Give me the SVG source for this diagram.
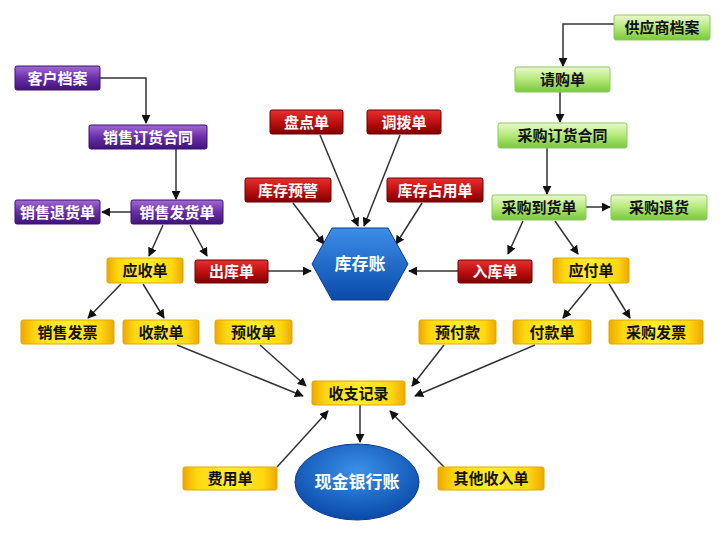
<svg xmlns="http://www.w3.org/2000/svg" width="724" height="535" viewBox="0 0 724 535">
<defs>
<linearGradient id="gP" x1="0" y1="0" x2="0" y2="1"><stop offset="0" stop-color="#a26ad2"/><stop offset="0.5" stop-color="#6a2ea8"/><stop offset="1" stop-color="#3e1478"/></linearGradient>
<linearGradient id="gR" x1="0" y1="0" x2="0" y2="1"><stop offset="0" stop-color="#e83030"/><stop offset="0.5" stop-color="#c01010"/><stop offset="1" stop-color="#800000"/></linearGradient>
<linearGradient id="gG" x1="0" y1="0" x2="0" y2="1"><stop offset="0" stop-color="#eafad0"/><stop offset="0.5" stop-color="#b4e878"/><stop offset="1" stop-color="#78c83c"/></linearGradient>
<linearGradient id="gY" x1="0" y1="0" x2="1" y2="0"><stop offset="0" stop-color="#eea800"/><stop offset="0.15" stop-color="#ffd810"/><stop offset="0.5" stop-color="#ffee30"/><stop offset="0.85" stop-color="#ffd810"/><stop offset="1" stop-color="#eea800"/></linearGradient>
<linearGradient id="gB" x1="0" y1="0" x2="0" y2="1"><stop offset="0" stop-color="#3c8ee8"/><stop offset="1" stop-color="#0a4aa8"/></linearGradient>
<radialGradient id="gE" cx="0.5" cy="0.35" r="0.65"><stop offset="0" stop-color="#3a90ea"/><stop offset="1" stop-color="#0a4aa8"/></radialGradient>
<marker id="ar" viewBox="0 0 10 10" refX="9" refY="5" markerWidth="9" markerHeight="9" markerUnits="userSpaceOnUse" orient="auto"><path d="M0,0 L10,5 L0,10 z" fill="#111"/></marker>
</defs>
<style>
.p{fill:url(#gP);stroke:#3a1070;stroke-width:1}
.r{fill:url(#gR);stroke:#6a0000;stroke-width:1}
.g{fill:url(#gG);stroke:#8cc860;stroke-width:1}
.y{fill:url(#gY);stroke:#e0a800;stroke-width:1}
text{font-family:"Noto Sans CJK SC","Noto Sans",sans-serif;font-weight:bold;font-size:15px;text-anchor:middle}
.w{fill:#fff}
.k{fill:#111}
.big{font-size:17px}
#connectors path{fill:none;stroke:#333;stroke-width:1.5;marker-end:url(#ar)}
</style>
<rect width="724" height="535" fill="#fff"/>
<g id="connectors">
<path d="M100,78 H146 V123"/>
<path d="M176,149 V199"/>
<path d="M131,212 H102"/>
<path d="M163,225 L149,256"/>
<path d="M190,225 L207,256"/>
<path d="M121,284 L88,318"/>
<path d="M143,284 L164,318"/>
<path d="M268,271 H311"/>
<path d="M458,271 H409"/>
<path d="M320,135 L358,226"/>
<path d="M400,135 L364,226"/>
<path d="M293,203 L324,244"/>
<path d="M422,203 L396,244"/>
<path d="M614,24 H563 V66"/>
<path d="M560,92 V122"/>
<path d="M547,148 V194"/>
<path d="M586,207 H610"/>
<path d="M523,221 L508,254"/>
<path d="M555,221 L578,254"/>
<path d="M591,284 L563,318"/>
<path d="M609,284 L630,318"/>
<path d="M177,345 L303,396"/>
<path d="M260,345 L306,386"/>
<path d="M444,345 L412,386"/>
<path d="M535,345 L415,396"/>
<path d="M360,405 V442"/>
<path d="M277,467 L328,411"/>
<path d="M444,467 L390,411"/>
</g>
<g id="n_kehu"><rect class="p" x="15" y="66" width="85" height="24" rx="2"/><text class="w" x="57.5" y="83.5">客户档案</text></g>
<g id="n_xsht"><rect class="p" x="89" y="125" width="118" height="24" rx="2"/><text class="w" x="148" y="142.5">销售订货合同</text></g>
<g id="n_xsth"><rect class="p" x="15" y="200" width="85" height="24" rx="2"/><text class="w" x="57.5" y="217.5">销售退货单</text></g>
<g id="n_xsfh"><rect class="p" x="131" y="200" width="92" height="24" rx="2"/><text class="w" x="177" y="217.5">销售发货单</text></g>
<g id="n_pd"><rect class="r" x="270" y="110" width="73" height="24" rx="2"/><text class="w" x="306.5" y="127.5">盘点单</text></g>
<g id="n_db"><rect class="r" x="367" y="110" width="74" height="24" rx="2"/><text class="w" x="404" y="127.5">调拨单</text></g>
<g id="n_yj"><rect class="r" x="245" y="178" width="86" height="24" rx="2"/><text class="w" x="288" y="195.5">库存预警</text></g>
<g id="n_zy"><rect class="r" x="387" y="178" width="96" height="24" rx="2"/><text class="w" x="435" y="195.5">库存占用单</text></g>
<g id="n_ck"><rect class="r" x="195" y="260" width="73" height="23" rx="2"/><text class="w" x="231.5" y="277">出库单</text></g>
<g id="n_rk"><rect class="r" x="458" y="260" width="74" height="23" rx="2"/><text class="w" x="495" y="277">入库单</text></g>
<g id="n_kcz"><polygon points="332,228 388,228 408,264 388,300 332,300 312,264" fill="url(#gB)" stroke="#0a3c90" stroke-width="1"/><text class="w big" x="360" y="270">库存账</text></g>
<g id="n_gys"><rect class="g" x="614" y="15" width="96" height="25" rx="2"/><text class="k" x="662" y="33">供应商档案</text></g>
<g id="n_qg"><rect class="g" x="515" y="67" width="95" height="25" rx="2"/><text class="k" x="562.5" y="85">请购单</text></g>
<g id="n_cght"><rect class="g" x="498" y="123" width="129" height="25" rx="2"/><text class="k" x="562.5" y="141">采购订货合同</text></g>
<g id="n_cgdh"><rect class="g" x="492" y="195" width="94" height="25" rx="2"/><text class="k" x="539" y="213">采购到货单</text></g>
<g id="n_cgth"><rect class="g" x="611" y="195" width="96" height="25" rx="2"/><text class="k" x="659" y="213">采购退货</text></g>
<g id="n_ys"><rect class="y" x="107" y="258" width="76" height="25" rx="2"/><text class="k" x="145" y="276">应收单</text></g>
<g id="n_xsfp"><rect class="y" x="21" y="320" width="93" height="24" rx="2"/><text class="k" x="67.5" y="337.5">销售发票</text></g>
<g id="n_sk"><rect class="y" x="123" y="320" width="76" height="24" rx="2"/><text class="k" x="161" y="337.5">收款单</text></g>
<g id="n_ysd"><rect class="y" x="215" y="320" width="77" height="24" rx="2"/><text class="k" x="253.5" y="337.5">预收单</text></g>
<g id="n_yf"><rect class="y" x="553" y="258" width="76" height="25" rx="2"/><text class="k" x="591" y="276">应付单</text></g>
<g id="n_yfk"><rect class="y" x="419" y="320" width="77" height="24" rx="2"/><text class="k" x="457.5" y="337.5">预付款</text></g>
<g id="n_fk"><rect class="y" x="513" y="320" width="78" height="24" rx="2"/><text class="k" x="552" y="337.5">付款单</text></g>
<g id="n_cgfp"><rect class="y" x="609" y="320" width="94" height="24" rx="2"/><text class="k" x="656" y="337.5">采购发票</text></g>
<g id="n_szjl"><rect class="y" x="312" y="381" width="93" height="24" rx="2"/><text class="k" x="358.5" y="398.5">收支记录</text></g>
<g id="n_fy"><rect class="y" x="183" y="467" width="94" height="23" rx="2"/><text class="k" x="230" y="484">费用单</text></g>
<g id="n_qt"><rect class="y" x="438" y="467" width="106" height="23" rx="2"/><text class="k" x="491" y="484">其他收入单</text></g>
<g id="n_xj"><ellipse cx="357" cy="482" rx="62" ry="38" fill="url(#gE)" stroke="#0a3c90" stroke-width="1"/><text class="w big" x="357" y="488">现金银行账</text></g>
</svg>
